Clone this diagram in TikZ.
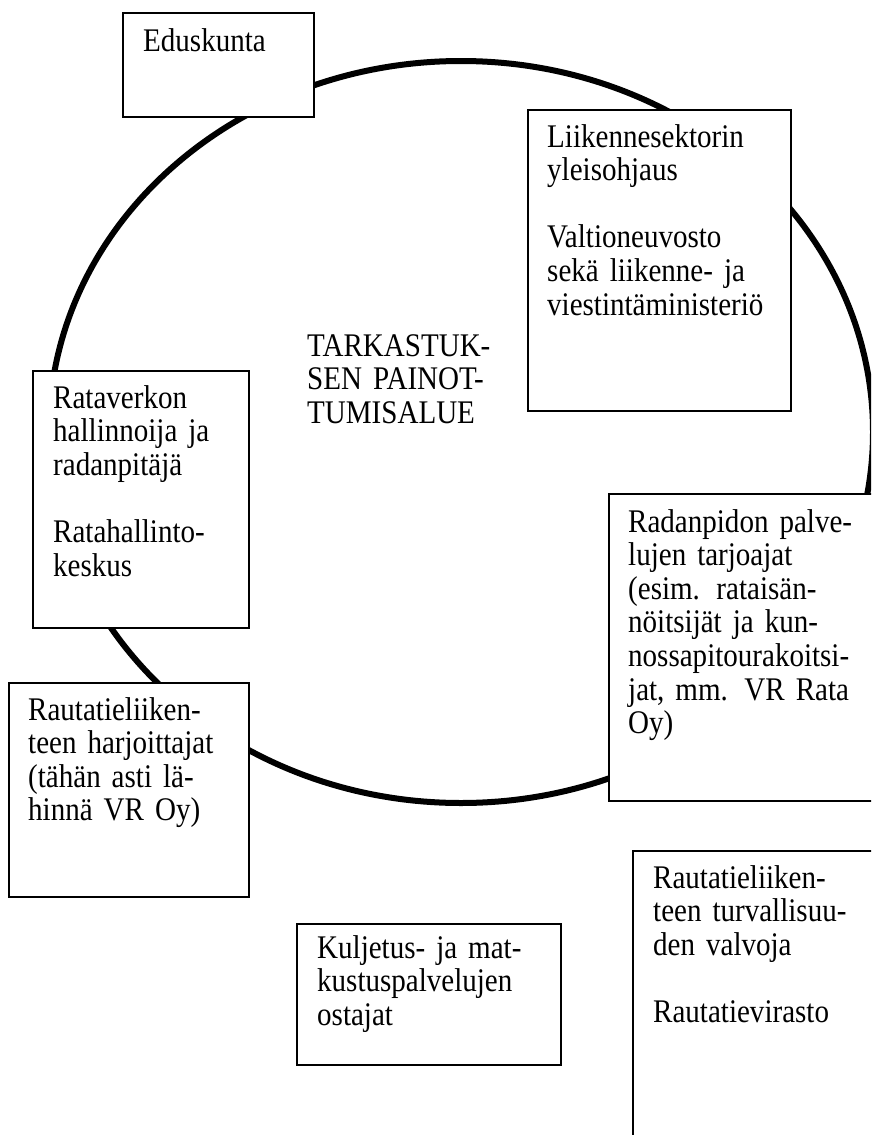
\documentclass[tikz,border=0pt]{standalone}
\usepackage{fontspec}
\setmainfont{Liberation Serif}
\newfontfamily\tallserif[FakeStretch=0.88]{Liberation Serif}
\newcommand{\jl}[1]{\makebox[\linewidth][s]{#1}}
\tikzset{
  x=1pt, y=1pt,
  boxnode/.style={draw=black, line width=1.8pt, fill=white, rectangle, inner sep=0pt, anchor=north west},
  txt/.style={inner sep=0pt, anchor=base west, align=left, font=\tallserif\fontsize{33}{33.6}\selectfont},
  ring/.style={draw=black, line width=6pt}
}
\begin{document}
\begin{tikzpicture}
\useasboundingbox (0,0) rectangle (871,-1135);
\clip (0,0) rectangle (871,-1135);
\fill[white] (0,0) rectangle (871,-1135);
% ring
\draw[ring] (461,-432) ellipse [x radius=412, y radius=371];
% boxes
\node[boxnode, minimum width=191, minimum height=104] (edus) at (122,-12) {};
\node[boxnode, minimum width=263, minimum height=301] (liik) at (527,-109) {};
\node[boxnode, minimum width=216, minimum height=257] (rata) at (32,-370) {};
\node[boxnode, minimum width=240, minimum height=214] (rautl) at (8,-682) {};
\node[boxnode, minimum width=292, minimum height=307] (radan) at (608,-493) {};
\node[boxnode, minimum width=268, minimum height=350] (turv) at (632,-850) {};
\node[boxnode, minimum width=264, minimum height=141] (kulj) at (296,-923) {};
% texts
\node[txt] (tedus) at (143,-51) {Eduskunta};
\node[txt, text width=222] (tliik) at (547,-147) {Liikennesektorin\\ yleisohjaus\\[33.6pt] Valtioneuvosto\\ \jl{sekä liikenne- ja}\\ viestintäministeriö};
\node[txt, text width=196] (ttark) at (307,-356) {TARKASTUK-\\ \jl{SEN PAINOT-}\\ TUMISALUE};
\node[txt, text width=175] (trata) at (53,-408) {Rataverkon\\ \jl{hallinnoija ja}\\ radanpitäjä\\[33.6pt] Ratahallinto-\\ keskus};
\node[txt, text width=200] (trautl) at (28,-720) {Rautatieliiken-\\ \jl{teen harjoittajat}\\ \jl{(tähän asti lä-}\\ hinnä VR Oy)};
\node[txt, text width=225] (tradan) at (628,-532) {\jl{Radanpidon palve-}\\ \jl{lujen tarjoajat}\\ \jl{(esim. rataisän-}\\ \jl{nöitsijät ja kun-}\\ nossapitourakoitsi-\\ \jl{jat, mm. VR Rata}\\ Oy)};
\node[txt, text width=197] (tturv) at (653,-888) {Rautatieliiken-\\ \jl{teen turvallisuu-}\\ den valvoja\\[33.6pt] Rautatievirasto};
\node[txt, text width=222] (tkulj) at (317,-958) {\jl{Kuljetus- ja mat-}\\ kustuspalvelujen\\ ostajat};
\end{tikzpicture}
\end{document}
